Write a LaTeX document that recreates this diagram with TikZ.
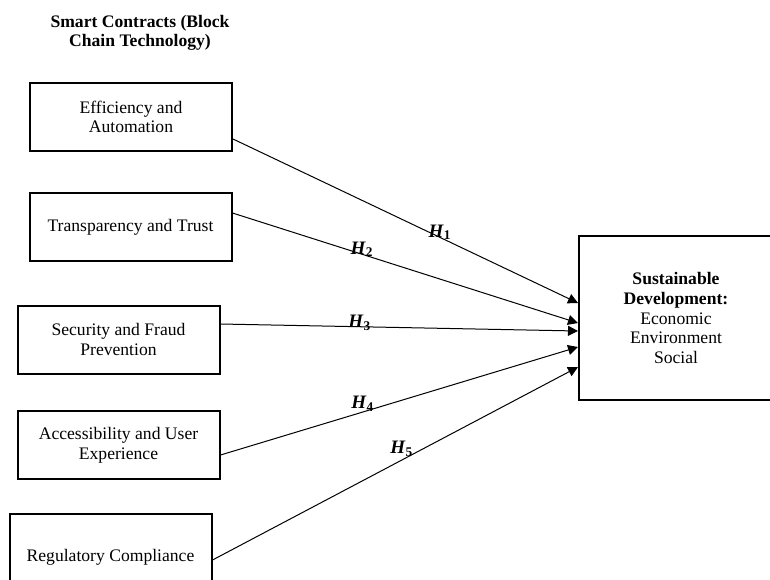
\documentclass[tikz,border=0pt]{standalone}
\usepackage{fontspec}
\setmainfont{Liberation Serif}
\usetikzlibrary{arrows.meta,calc}
\tikzstyle{factor} = [rectangle, draw, line width=1pt, minimum width=101pt,
    minimum height=34pt, align=center, font=\fontsize{8.8}{9.8}\selectfont]
\tikzstyle{outcome} = [factor, minimum width=97pt, minimum height=82pt]
\tikzstyle{link} = [draw, line width=0.5pt, -{Triangle[length=5pt,width=5pt]}]
\tikzstyle{hyp} = [inner sep=0pt, font=\fontsize{9.5}{10}\selectfont\bfseries]
\newcommand{\hlab}[1]{\textit{H}\textsubscript{#1}}

\begin{document}
\begin{tikzpicture}[x=0.5pt, y=-0.5pt]
    \useasboundingbox (0,0) rectangle (770,579);
    \clip (0,0) rectangle (770,579);
    % Place nodes
    \node [font=\fontsize{8.8}{9.8}\selectfont\bfseries, align=center] (title) at (140,33) {Smart Contracts (Block\\Chain Technology)};
    \node [factor] (eff) at (131,117) {Efficiency and\\Automation};
    \node [factor] (trans) at (130.5,227) {Transparency and Trust};
    \node [factor] (sec) at (118.5,339.5) {Security and Fraud\\Prevention};
    \node [factor] (acc) at (118.5,445) {Accessibility and User\\Experience};
    \node [factor, minimum height=43pt] (reg) at (110.5,557) {Regulatory Compliance};
    \node [outcome] (sd) at (676,318) {\textbf{Sustainable}\\\textbf{Development:}\\Economic\\Environment\\Social};
    % Draw edges
    \path [link] ($(eff.east)+(0,22)$) -- node [hyp, pos=0.6, yshift=2.6pt] {\hlab{1}} ($(sd.west)+(0,-15)$);
    \path [link] ($(trans.east)+(0,-14)$) -- node [hyp, pos=0.375, yshift=2.5pt] {\hlab{2}} ($(sd.west)+(0,5)$);
    \path [link] ($(sec.east)+(0,-15.5)$) -- node [hyp, pos=0.39, yshift=1.8pt] {\hlab{3}} ($(sd.west)+(0,13)$);
    \path [link] ($(acc.east)+(0,10)$) -- node [hyp, pos=0.398, yshift=4pt] {\hlab{4}} ($(sd.west)+(0,29)$);
    \path [link] ($(reg.east)+(0,3)$) -- node [hyp, pos=0.518, yshift=5.5pt] {\hlab{5}} ($(sd.west)+(0,49)$);
\end{tikzpicture}
\end{document}
